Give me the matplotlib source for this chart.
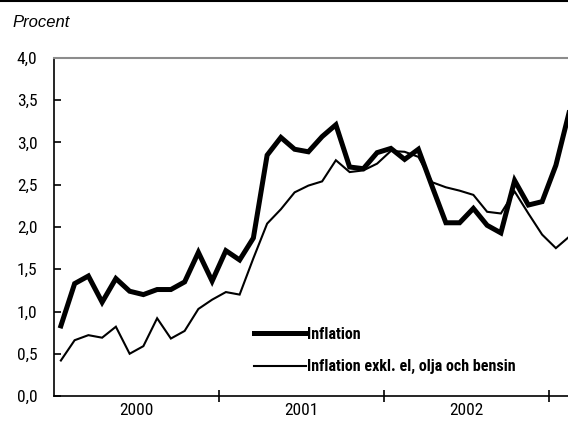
#!/usr/bin/env python3
import numpy as np
import matplotlib
matplotlib.use("Agg")
import matplotlib.pyplot as plt
from matplotlib import font_manager as fm
from matplotlib.lines import Line2D

# monthly values, Jan 2000 - Feb 2003
inflation = [0.83, 1.33, 1.42, 1.11, 1.39, 1.24, 1.20, 1.26, 1.26, 1.35, 1.70, 1.36,
             1.72, 1.61, 1.87, 2.85, 3.06, 2.92, 2.89, 3.07, 3.21, 2.71, 2.69, 2.88,
             2.93, 2.80, 2.92, 2.48, 2.05, 2.05, 2.22, 2.02, 1.93, 2.55, 2.26, 2.30,
             2.73, 3.38]
inflation_excl = [0.42, 0.66, 0.72, 0.69, 0.82, 0.50, 0.59, 0.92, 0.68, 0.77, 1.03, 1.14,
                  1.23, 1.20, 1.63, 2.04, 2.21, 2.41, 2.49, 2.54, 2.79, 2.65, 2.67, 2.75,
                  2.90, 2.89, 2.83, 2.53, 2.47, 2.43, 2.38, 2.18, 2.16, 2.42, 2.16, 1.91,
                  1.75, 1.89]
years = ["2000", "2001", "2002"]
y_ticks = [0.0, 0.5, 1.0, 1.5, 2.0, 2.5, 3.0, 3.5, 4.0]
labels = ["Inflation", "Inflation exkl. el, olja och bensin"]


def pick_narrow_font():
    fonts = fm.fontManager.ttflist
    names = {f.name for f in fonts}
    for name in ["Liberation Sans Narrow", "Roboto Condensed", "Open Sans Condensed"]:
        if name in names:
            return {"family": name}
    for f in fonts:
        if f.name == "DejaVu Sans" and f.stretch == "condensed":
            return {"family": "DejaVu Sans", "stretch": "condensed"}
    return {"family": "Roboto"}


narrow = pick_narrow_font()

months = 2000 + (np.arange(len(inflation)) + 0.5) / 12

fig = plt.figure(figsize=(5.68, 4.23), dpi=100)
ax = fig.add_axes([54 / 568, 27 / 423, 1 - 54 / 568, (396 - 58) / 423])

ax.plot(months, inflation, color="black", lw=3.6, solid_joinstyle="miter")
ax.plot(months, inflation_excl, color="black", lw=1.5, solid_joinstyle="miter")

ax.set_xlim(2000, 2000 + (568 - 54) / 165)
ax.set_ylim(0, 4)

ax.spines["right"].set_visible(False)
ax.spines["top"].set_color("#8c8c8c")
ax.spines["top"].set_linewidth(1.5)
ax.spines["left"].set_linewidth(1.2)
ax.spines["bottom"].set_linewidth(1.2)

tick_font = fm.FontProperties(size=12.5, **narrow)

ax.set_yticks(y_ticks)
ax.set_yticklabels([f"{v:.1f}".replace(".", ",") for v in y_ticks],
                   fontproperties=tick_font)
ax.tick_params(axis="y", direction="in", length=5, width=1.2, pad=12)

ax.set_xticks([2001, 2002, 2003])
ax.set_xticklabels([])
ax.tick_params(axis="x", which="major", direction="inout", length=9, width=1.2)
ax.set_xticks([int(y) + 0.5 for y in years], minor=True)
ax.set_xticklabels(years, minor=True, fontproperties=tick_font)
ax.tick_params(axis="x", which="minor", length=0, pad=5)

handles = [Line2D([], [], color="black", lw=3.6), Line2D([], [], color="black", lw=1.5)]
leg = ax.legend(handles, labels, loc="lower left", bbox_to_anchor=(0.362, 0.022),
                frameon=False, handlelength=3.2, handletextpad=0.1, labelspacing=1.1,
                prop=fm.FontProperties(size=11.5, weight="bold", **narrow))

fig.text(12 / 568, 1 - 27 / 423, "Procent", fontsize=12, style="italic",
         fontfamily="Liberation Sans", va="baseline")
fig.add_artist(Line2D([0, 1], [0.998, 0.998], color="black", lw=1.5,
                      transform=fig.transFigure))

fig.savefig("out.png", dpi=100)
plt.close(fig)
